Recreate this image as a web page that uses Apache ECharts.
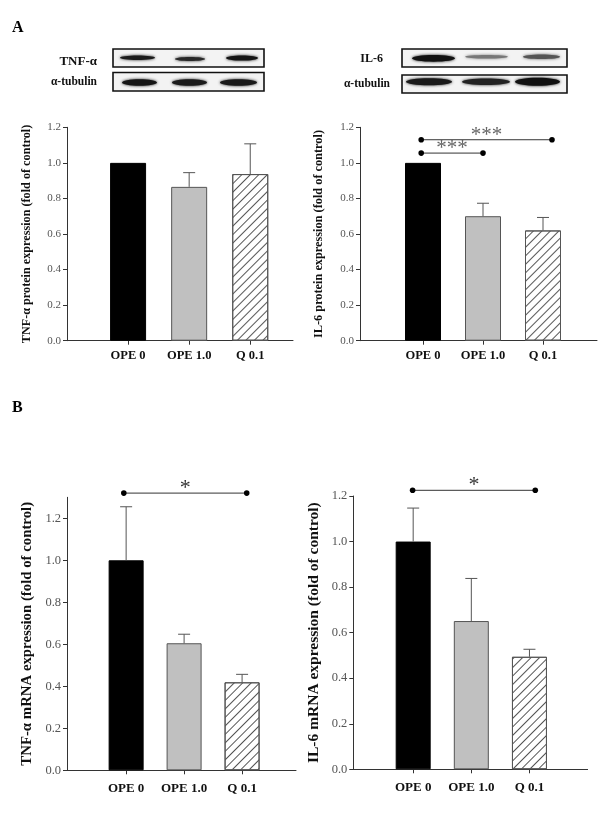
<!DOCTYPE html>
<html><head><meta charset="utf-8">
<script src="https://cdn.jsdelivr.net/npm/echarts@6/dist/echarts.min.js"></script>
<style>html,body{margin:0;padding:0;background:#fff}#c{width:600px;height:833px}</style>
</head><body><div id="c"></div>
<script>
// ---------- data ----------
const categories = ['OPE 0', 'OPE 1.0', 'Q 0.1'];
const yTicks = [0, 0.2, 0.4, 0.6, 0.8, 1.0, 1.2];

const tnfProtein = [1.0, 0.865, 0.937];
const tnfProteinErr = [0, 0.08, 0.17];
const il6Protein = [1.0, 0.70, 0.62];
const il6ProteinErr = [0, 0.073, 0.073];
const tnfMrna = [1.0, 0.605, 0.419];
const tnfMrnaErr = [0.255, 0.043, 0.038];
const il6Mrna = [1.0, 0.651, 0.494];
const il6MrnaErr = [0.147, 0.187, 0.033];

// significance brackets: [fromCategory, toCategory, level, text]
const tnfProteinSig = [];
const il6ProteinSig = [[-0.03, 2.15, 1.13, '***'], [-0.03, 1.0, 1.055, '***']];
const tnfMrnaSig = [[-0.04, 2.08, 1.32, '*']];
const il6MrnaSig = [[-0.01, 2.1, 1.225, '*']];

// ---------- styles ----------
const SERIF = '"Liberation Serif","Times New Roman",serif';
const barStyles = [
  {color: '#000', borderColor: '#000', borderWidth: 1},
  {color: '#c0c0c0', borderColor: '#555', borderWidth: 1},
  {color: '#fff', borderColor: '#555', borderWidth: 1,
   decal: {symbol: 'rect', symbolSize: 1, color: '#555', dashArrayX: [1, 0], dashArrayY: [1, 5], rotation: -Math.PI / 4}}
];

const panels = [
  {grid: {left: 67, top: 127.3, width: 226, height: 213.4}, xmin: -1, xmax: 2.7, ymax: 1.2,
   vals: tnfProtein, err: tnfProteinErr, sig: tnfProteinSig, barW: 36,
   name: 'TNF-α protein expression (fold of control)', nameSize: 12.2, nameGap: 34,
   yFont: 11, xFont: 12.5, xMargin: 9},
  {grid: {left: 360, top: 127.3, width: 237, height: 213.4}, xmin: -1.05, xmax: 2.9, ymax: 1.2,
   vals: il6Protein, err: il6ProteinErr, sig: il6ProteinSig, barW: 36,
   name: 'IL-6 protein expression (fold of control)', nameSize: 12.3, nameGap: 35,
   yFont: 11, xFont: 12.5, xMargin: 9},
  {grid: {left: 67, top: 497.3, width: 229, height: 273}, xmin: -1.02, xmax: 2.93, ymax: 1.3,
   vals: tnfMrna, err: tnfMrnaErr, sig: tnfMrnaSig, barW: 35,
   name: 'TNF-α mRNA expression (fold of control)', nameSize: 14.8, nameGap: 32,
   yFont: 12.5, xFont: 13, xMargin: 12},
  {grid: {left: 353.3, top: 496, width: 234.3, height: 273.3}, xmin: -1.03, xmax: 3.0, ymax: 1.2,
   vals: il6Mrna, err: il6MrnaErr, sig: il6MrnaSig, barW: 35,
   name: 'IL-6 mRNA expression (fold of control)', nameSize: 15.5, nameGap: 31.5,
   yFont: 12.5, xFont: 13, xMargin: 12}
];

const grids = [], xAxes = [], yAxes = [], series = [];
panels.forEach((p, i) => {
  grids.push(p.grid);
  xAxes.push({
    type: 'value', gridIndex: i, min: p.xmin, max: p.xmax,
    axisLine: {show: true, onZero: false, lineStyle: {color: '#333', width: 1}},
    axisTick: {show: true, customValues: [0, 1, 2], length: 4, lineStyle: {color: '#333'}},
    axisLabel: {customValues: [0, 1, 2], formatter: v => categories[Math.round(v)] || '',
      fontFamily: SERIF, fontWeight: 'bold', fontSize: p.xFont, color: '#111', margin: p.xMargin},
    splitLine: {show: false}
  });
  yAxes.push({
    type: 'value', gridIndex: i, min: 0, max: p.ymax,
    name: p.name, nameLocation: 'middle', nameGap: p.nameGap,
    nameTextStyle: {fontFamily: SERIF, fontWeight: 'bold', fontSize: p.nameSize, color: '#111'},
    axisLine: {show: true, onZero: false, lineStyle: {color: '#333', width: 1}},
    axisTick: {show: true, customValues: yTicks, length: 4, lineStyle: {color: '#333'}},
    axisLabel: {customValues: yTicks, formatter: v => v.toFixed(1),
      fontFamily: SERIF, fontSize: p.yFont, color: '#555', margin: 6},
    splitLine: {show: false}
  });
  series.push({
    type: 'bar', xAxisIndex: i, yAxisIndex: i, barWidth: p.barW,
    data: p.vals.map((v, k) => ({value: [k, v], itemStyle: barStyles[k]})),
    z: 2, silent: true
  });
  series.push({
    type: 'custom', xAxisIndex: i, yAxisIndex: i, z: 3, silent: true,
    data: p.vals.map((v, k) => [k, v, p.err[k]]),
    renderItem: (params, api) => {
      const x = api.value(0), y = api.value(1), e = api.value(2);
      if (!e) return null;
      const a = api.coord([x, y]), b = api.coord([x, y + e]);
      return {type: 'group', children: [
        {type: 'line', shape: {x1: a[0], y1: a[1], x2: b[0], y2: b[1]}, style: {stroke: '#555', lineWidth: 1}},
        {type: 'line', shape: {x1: b[0] - 6, y1: b[1], x2: b[0] + 6, y2: b[1]}, style: {stroke: '#555', lineWidth: 1}}
      ]};
    }
  });
  if (p.sig.length) {
    series.push({
      type: 'custom', xAxisIndex: i, yAxisIndex: i, z: 4, silent: true, clip: false,
      data: p.sig.map(s => [s[0], s[2], s[1]]),
      renderItem: (params, api) => {
        const s = p.sig[params.dataIndex];
        const a = api.coord([s[0], s[2]]), b = api.coord([s[1], s[2]]);
        const big = s[3] === '*';
        return {type: 'group', children: [
          {type: 'line', shape: {x1: a[0], y1: a[1], x2: b[0], y2: b[1]}, style: {stroke: '#333', lineWidth: 1}},
          {type: 'circle', shape: {cx: a[0], cy: a[1], r: 2.8}, style: {fill: '#000'}},
          {type: 'circle', shape: {cx: b[0], cy: b[1], r: 2.8}, style: {fill: '#000'}},
          {type: 'text', x: (a[0] + b[0]) / 2, y: a[1] + (big ? 6 : 6),
           style: {text: s[3], fontFamily: SERIF, fontSize: big ? 22 : 21, fill: big ? '#333' : '#666',
             align: 'center', verticalAlign: 'bottom'}}
        ]};
      }
    });
  }
});

// ---------- western blot images (decoration) ----------
const blotGraphics = [];
function box(x, y, w, h) {
  blotGraphics.push({type: 'rect', shape: {x: x, y: y, width: w, height: h},
    style: {fill: '#f3f3f3', stroke: '#111', lineWidth: 1.6}, z: 1});
}
function band(x1, x2, cy, ry, col) {
  blotGraphics.push({type: 'ellipse', shape: {cx: (x1 + x2) / 2, cy: cy, rx: (x2 - x1) / 2, ry: ry},
    style: {fill: col, shadowBlur: 3, shadowColor: col}, z: 2});
}
function label(t, x, y, size, weight) {
  blotGraphics.push({type: 'text', x: x, y: y, style: {text: t, fontFamily: SERIF, fontSize: size,
    fontWeight: weight, fill: '#111', align: 'right', verticalAlign: 'middle'}, z: 3});
}
box(113, 49, 151, 18); box(113, 72.5, 151, 18.5);
band(120, 155, 57.7, 2.2, '#1a1a1a'); band(175, 205, 59, 2.0, '#2a2a2a'); band(226, 258, 58, 2.6, '#151515');
band(122, 157, 82.5, 3.3, '#151515'); band(172, 207, 82.5, 3.2, '#1a1a1a'); band(220, 257, 82.5, 3.2, '#1a1a1a');
box(402, 49, 165, 18); box(402, 75, 165, 18);
band(412, 455, 58.3, 3.4, '#111'); band(465, 508, 56.8, 1.8, '#777'); band(523, 560, 56.8, 2.3, '#555');
band(406, 452, 81.8, 3.5, '#1a1a1a'); band(462, 510, 81.8, 3.3, '#222'); band(515, 560, 81.8, 4.0, '#111');
label('TNF-α', 97, 62, 13, 'bold');
label('α-tubulin', 97, 82, 11.5, 'bold');
label('IL-6', 383, 59, 12, 'bold');
label('α-tubulin', 390, 84, 11.5, 'bold');
blotGraphics.push({type: 'text', x: 12, y: 20, style: {text: 'A', fontFamily: SERIF, fontSize: 16, fontWeight: 'bold', fill: '#000'}});
blotGraphics.push({type: 'text', x: 12, y: 400, style: {text: 'B', fontFamily: SERIF, fontSize: 16, fontWeight: 'bold', fill: '#000'}});

const chart = echarts.init(document.getElementById('c'), null, {renderer: 'canvas'});
chart.setOption({
  animation: false,
  backgroundColor: '#fff',
  grid: grids, xAxis: xAxes, yAxis: yAxes, series: series,
  graphic: blotGraphics
});
</script></body></html>
